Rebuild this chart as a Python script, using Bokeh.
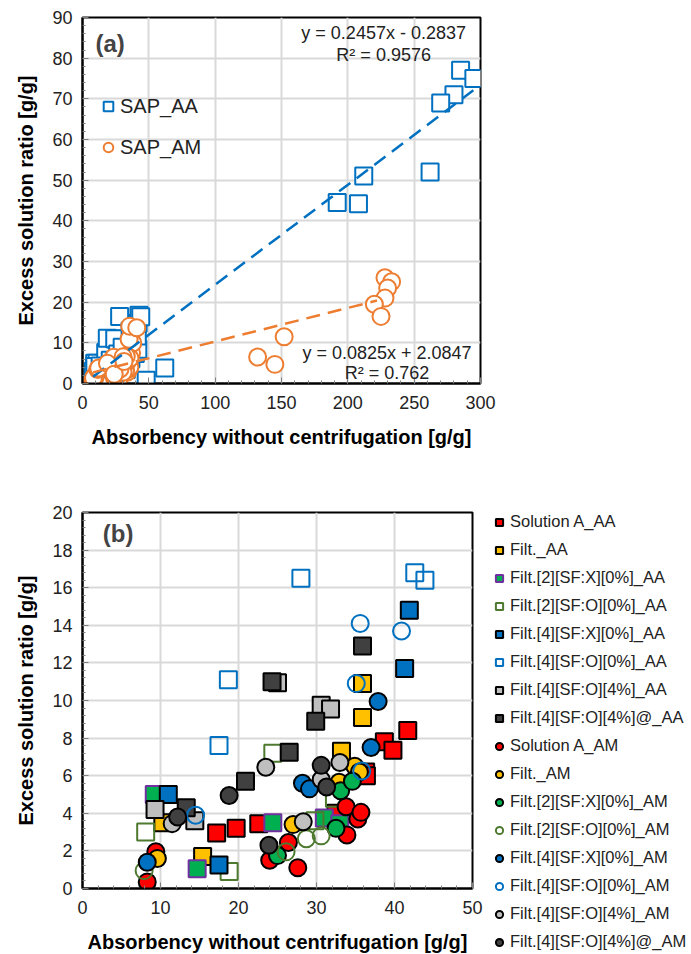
import numpy as np
from bokeh.plotting import figure
from bokeh.models import Legend, LegendItem, Label, FixedTicker, Range1d
from bokeh.layouts import column
from bokeh.embed import file_html
from bokeh.resources import INLINE

FONT = "Liberation Sans"

# ---------------- panel (b) data ----------------
sol_a_aa_x = [17.2, 19.7, 22.6, 32.5, 36.3, 36.4, 38.7, 39.8, 41.7]
sol_a_aa_y = [2.95, 3.2, 3.45, 4.0, 6.2, 6.0, 7.8, 7.35, 8.4]
filt_aa_x = [10.3, 15.4, 33.2, 35.9, 35.9]
filt_aa_y = [3.5, 1.7, 7.3, 9.1, 10.9]
f2_sfx_aa_x = [9.2, 14.7, 24.4, 31.0, 33.0]
f2_sfx_aa_y = [5.0, 1.05, 3.5, 3.75, 3.45]
f2_sfo_aa_x = [8.1, 18.8, 24.4, 29.8, 32.3]
f2_sfo_aa_y = [3.0, 0.9, 7.2, 3.6, 4.8]
f4_sfx_aa_x = [11.0, 17.5, 41.3, 41.9]
f4_sfx_aa_y = [5.0, 1.25, 11.7, 14.8]
f4_sfo_aa_x = [17.5, 18.7, 28.0, 42.6, 43.9]
f4_sfo_aa_y = [7.6, 11.1, 16.5, 16.8, 16.4]
f4_sfo4_aa_x = [9.3, 14.4, 25.0, 30.6, 31.8]
f4_sfo4_aa_y = [4.2, 3.6, 10.95, 9.75, 9.55]
f4_sfo4at_aa_x = [13.3, 20.9, 24.3, 26.5, 29.9, 35.9]
f4_sfo4at_aa_y = [4.3, 5.7, 11.0, 7.25, 8.9, 12.9]

sol_a_am_x = [8.3, 9.4, 24.0, 26.4, 27.6, 33.8, 33.9, 35.3, 35.7]
sol_a_am_y = [0.35, 1.95, 1.5, 2.45, 1.1, 4.35, 2.85, 3.7, 4.05]
filt_am_x = [9.6, 27.0, 32.9, 34.9, 35.5]
filt_am_y = [1.6, 3.4, 5.65, 6.5, 6.2]
f2_sfx_am_x = [25.0, 32.5, 33.1, 34.6]
f2_sfx_am_y = [1.75, 3.2, 5.2, 5.7]
f2_sfo_am_x = [7.9, 26.1, 28.7, 30.6]
f2_sfo_am_y = [0.95, 1.95, 2.65, 2.8]
f4_sfx_am_x = [8.3, 28.2, 29.1, 37.0, 37.9]
f4_sfx_am_y = [1.4, 5.6, 5.3, 7.5, 9.95]
f4_sfo_am_x = [14.5, 35.1, 35.6, 40.9, 35.8]
f4_sfo_am_y = [3.9, 10.9, 14.1, 13.7, 6.25]
f4_sfo4_am_x = [11.5, 23.5, 28.3, 30.6, 33.0]
f4_sfo4_am_y = [3.45, 6.45, 3.55, 5.8, 6.7]
f4_sfo4at_am_x = [12.2, 18.8, 23.9, 30.6, 31.3]
f4_sfo4at_am_y = [3.8, 4.95, 2.3, 6.55, 5.4]

# ---------------- panel (a) extra data (large absorbency) ----------------
sap_aa_big_x = [285, 295, 280, 270, 262, 212, 192, 208, 62, 48]
sap_aa_big_y = [77, 75, 71, 69, 52, 51, 44.5, 44.2, 3.8, 0.8]
sap_am_big_x = [228, 233, 230, 228, 220, 225, 152, 132, 145]
sap_am_big_y = [26, 25, 23.5, 21, 19.5, 16.5, 11.5, 6.5, 4.7]

fit_aa = (0.2457, -0.2837)
fit_am = (0.0825, 2.0847)
fit_aa_xrange = [8, 296]
fit_am_xrange = [8, 222]

eq_aa_text = ["y = 0.2457x - 0.2837", "R² = 0.9576"]
eq_am_text = ["y = 0.0825x + 2.0847", "R² = 0.762"]

BLUE = "#0070C0"
ORANGE = "#ED7D31"

aa_x_all = (sol_a_aa_x + filt_aa_x + f2_sfx_aa_x + f2_sfo_aa_x + f4_sfx_aa_x +
            f4_sfo_aa_x + f4_sfo4_aa_x + f4_sfo4at_aa_x + sap_aa_big_x)
aa_y_all = (sol_a_aa_y + filt_aa_y + f2_sfx_aa_y + f2_sfo_aa_y + f4_sfx_aa_y +
            f4_sfo_aa_y + f4_sfo4_aa_y + f4_sfo4at_aa_y + sap_aa_big_y)
am_x_all = (sol_a_am_x + filt_am_x + f2_sfx_am_x + f2_sfo_am_x + f4_sfx_am_x +
            f4_sfo_am_x + f4_sfo4_am_x + f4_sfo4at_am_x + sap_am_big_x)
am_y_all = (sol_a_am_y + filt_am_y + f2_sfx_am_y + f2_sfo_am_y + f4_sfx_am_y +
            f4_sfo_am_y + f4_sfo4_am_y + f4_sfo4at_am_y + sap_am_big_y)


def style(p, xt, yt):
    p.outline_line_color = "black"
    p.outline_line_width = 2
    for ax in (p.xaxis[0], p.yaxis[0]):
        ax.axis_line_color = "black"
        ax.axis_line_width = 2
        ax.major_tick_in = 6
        ax.major_tick_out = 0
        ax.minor_tick_in = 3
        ax.minor_tick_out = 0
        ax.major_tick_line_color = "#7f7f7f"
        ax.minor_tick_line_color = "#7f7f7f"
        ax.major_label_text_font = FONT
        ax.major_label_text_font_size = "18px"
        ax.major_label_text_color = "#222222"
        ax.axis_label_text_font = FONT
        ax.axis_label_text_font_size = "20px"
        ax.axis_label_text_font_style = "bold"
        ax.axis_label_text_color = "black"
    p.xaxis[0].ticker = FixedTicker(ticks=xt, minor_ticks=list(np.linspace(xt[0], xt[-1], (len(xt) - 1) * 5 + 1)))
    p.yaxis[0].ticker = FixedTicker(ticks=yt, minor_ticks=list(np.linspace(yt[0], yt[-1], (len(yt) - 1) * 5 + 1)))
    p.xaxis[0].major_label_standoff = 12
    p.yaxis[0].major_label_standoff = 10
    p.xaxis[0].axis_label_standoff = 14
    p.yaxis[0].axis_label_standoff = 12
    p.xgrid.grid_line_color = "#D9D9D9"
    p.ygrid.grid_line_color = "#D9D9D9"
    p.xgrid.grid_line_width = 2
    p.ygrid.grid_line_width = 2
    p.background_fill_color = "white"
    p.border_fill_color = "white"


# ---------------- panel (a) ----------------
pa = figure(frame_width=398, frame_height=366, min_border_left=82, min_border_right=211,
            min_border_top=17, min_border_bottom=87, x_range=Range1d(0, 300), y_range=Range1d(0, 90),
            output_backend="svg", toolbar_location=None,
            x_axis_label="Absorbency without centrifugation [g/g]",
            y_axis_label="Excess solution ratio [g/g]")
style(pa, [0, 50, 100, 150, 200, 250, 300], list(range(0, 91, 10)))

r_aa = pa.scatter(aa_x_all, aa_y_all, marker="square", size=17, fill_color="white",
                  line_color=BLUE, line_width=2)
r_am = pa.scatter(am_x_all, am_y_all, marker="circle", size=17, fill_color="white",
                  line_color=ORANGE, line_width=2)
xa = np.array(fit_aa_xrange, dtype=float)
pa.line(xa, fit_aa[0] * xa + fit_aa[1], line_color=BLUE, line_width=2.5, line_dash="14 8")
xm = np.array(fit_am_xrange, dtype=float)
pa.line(xm, fit_am[0] * xm + fit_am[1], line_color=ORANGE, line_width=2.5, line_dash="14 8")

leg_a = Legend(items=[LegendItem(label="SAP_AA", renderers=[r_aa]),
                      LegendItem(label="SAP_AM", renderers=[r_am])],
               location=(14, 221), glyph_width=24, glyph_height=24, label_height=30,
               spacing=11, padding=0, margin=0, label_standoff=0,
               label_text_font=FONT, label_text_font_size="20px", label_text_color="#222222",
               background_fill_alpha=0, border_line_alpha=0)
pa.add_layout(leg_a)

pa.add_layout(Label(x=9.8, y=83.6, text="(a)", text_font=FONT, text_font_size="24px",
                    text_font_style="bold", text_baseline="middle", text_align="left"))
for txt, yy in zip(eq_aa_text, [86.1, 80.7]):
    pa.add_layout(Label(x=227, y=yy, text=txt, text_font=FONT, text_font_size="18px",
                        text_color="#222222", text_align="center", text_baseline="middle"))
for txt, yy in zip(eq_am_text, [7.6, 2.7]):
    pa.add_layout(Label(x=229.5, y=yy, text=txt, text_font=FONT, text_font_size="18px",
                        text_color="#222222", text_align="center", text_baseline="middle"))

# ---------------- panel (b) ----------------
pb = figure(frame_width=390, frame_height=376, min_border_left=78, min_border_right=223,
            min_border_top=42, min_border_bottom=66, x_range=Range1d(0, 50), y_range=Range1d(0, 20),
            output_backend="svg", toolbar_location=None,
            x_axis_label="Absorbency without centrifugation [g/g]",
            y_axis_label="Excess solution ratio [g/g]")
style(pb, [0, 10, 20, 30, 40, 50], list(range(0, 21, 2)))

specs = [
    ("Solution A_AA", sol_a_aa_x, sol_a_aa_y, "square", "#FF0000", "black", 1),
    ("Filt._AA", filt_aa_x, filt_aa_y, "square", "#FFC000", "black", 1),
    ("Filt.[2][SF:X][0%]_AA", f2_sfx_aa_x, f2_sfx_aa_y, "square", "#00B050", "#7030A0", 1),
    ("Filt.[2][SF:O][0%]_AA", f2_sfo_aa_x, f2_sfo_aa_y, "square", None, "#4E7A2F", 0),
    ("Filt.[4][SF:X][0%]_AA", f4_sfx_aa_x, f4_sfx_aa_y, "square", "#0070C0", "black", 1),
    ("Filt.[4][SF:O][0%]_AA", f4_sfo_aa_x, f4_sfo_aa_y, "square", None, "#0070C0", 0),
    ("Filt.[4][SF:O][4%]_AA", f4_sfo4_aa_x, f4_sfo4_aa_y, "square", "#BFBFBF", "black", 1),
    ("Filt.[4][SF:O][4%]@_AA", f4_sfo4at_aa_x, f4_sfo4at_aa_y, "square", "#404040", "black", 1),
    ("Solution A_AM", sol_a_am_x, sol_a_am_y, "circle", "#FF0000", "black", 1),
    ("Filt._AM", filt_am_x, filt_am_y, "circle", "#FFC000", "black", 1),
    ("Filt.[2][SF:X][0%]_AM", f2_sfx_am_x, f2_sfx_am_y, "circle", "#00B050", "black", 1),
    ("Filt.[2][SF:O][0%]_AM", f2_sfo_am_x, f2_sfo_am_y, "circle", None, "#4E7A2F", 0),
    ("Filt.[4][SF:X][0%]_AM", f4_sfx_am_x, f4_sfx_am_y, "circle", "#0070C0", "black", 1),
    ("Filt.[4][SF:O][0%]_AM", f4_sfo_am_x, f4_sfo_am_y, "circle", None, "#0070C0", 0),
    ("Filt.[4][SF:O][4%]_AM", f4_sfo4_am_x, f4_sfo4_am_y, "circle", "#BFBFBF", "black", 1),
    ("Filt.[4][SF:O][4%]@_AM", f4_sfo4at_am_x, f4_sfo4at_am_y, "circle", "#404040", "black", 1),
]

items = []
for name, xs, ys, mk, fc, lc, fa in specs:
    r = pb.scatter(xs, ys, marker=mk, size=17, fill_color=fc if fc else "white",
                   fill_alpha=fa, line_color=lc, line_width=2)
    items.append(LegendItem(label=name, renderers=[r]))

leg_b = Legend(items=items, location=(18, -66), glyph_width=18, glyph_height=18,
               label_height=25, spacing=3, padding=0, margin=0, label_standoff=2,
               label_text_font=FONT, label_text_font_size="16.5px", label_text_color="#222222",
               background_fill_alpha=0, border_line_alpha=0)
pb.add_layout(leg_b, "right")
pb.add_layout(Label(x=2.6, y=18.9, text="(b)", text_font=FONT, text_font_size="24px",
                    text_font_style="bold", text_baseline="middle", text_align="left"))

layout = column(pa, pb, spacing=0)
open("out.html", "w").write(file_html(layout, INLINE))
